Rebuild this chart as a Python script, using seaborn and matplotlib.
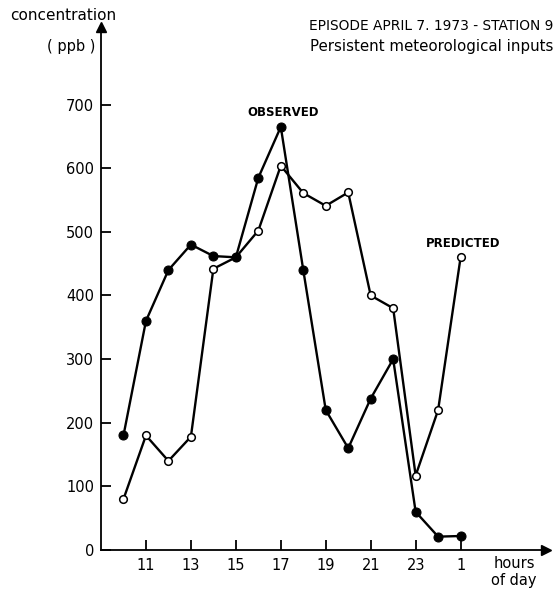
import matplotlib
matplotlib.use("Agg")
import matplotlib.pyplot as plt
import seaborn as sns
import pandas as pd

hours = [10, 11, 12, 13, 14, 15, 16, 17, 18, 19, 20, 21, 22, 23, 24, 25]
observed = [180, 360, 440, 480, 462, 460, 585, 665, 440, 220, 160, 238, 300, 60, 21, 22]
predicted = [80, 180, 140, 178, 442, 460, 502, 604, 561, 541, 562, 400, 380, 117, 220, 460]
tick_pos = [11, 13, 15, 17, 19, 21, 23, 25]
tick_labels = ["11", "13", "15", "17", "19", "21", "23", "1"]
y_ticks = [0, 100, 200, 300, 400, 500, 600, 700]

sns.set_theme(style="white")
plt.rcParams['font.family'] = ['DejaVu Sans']
plt.rcParams['text.color'] = 'black'

df = pd.DataFrame({"hour": hours, "observed": observed, "predicted": predicted})

fig = plt.figure(figsize=(5.59, 5.92), dpi=100)
ax = fig.add_axes([101/559, 1-550/592, (546-101)/559, (550-27)/592])

sns.lineplot(data=df, x="hour", y="predicted", ax=ax, color="black", lw=1.7,
             marker="o", markersize=5.5, markerfacecolor="white",
             markeredgecolor="black", markeredgewidth=1.1, zorder=3)
sns.lineplot(data=df, x="hour", y="observed", ax=ax, color="black", lw=1.7,
             marker="o", markersize=6.5, markerfacecolor="black",
             markeredgecolor="black", zorder=4)

ax.set_xlim(9, 28.8)
ax.set_ylim(0, 822)
ax.set_xticks(tick_pos)
ax.set_xticklabels(tick_labels)
ax.set_yticks(y_ticks)
ax.set_xlabel("")
ax.set_ylabel("")
for s in ["top", "right"]:
    ax.spines[s].set_visible(False)
for s in ["left", "bottom"]:
    ax.spines[s].set_color("black")
    ax.spines[s].set_linewidth(1.3)
ax.tick_params(axis="both", direction="in", length=7, width=1.3, colors="black",
               labelsize=10.5, left=True, bottom=True)
ax.tick_params(axis="x", pad=6)
ax.tick_params(axis="y", pad=5)
ax.grid(False)

# axis arrows
ax.plot(1, 0, marker=">", ms=7, color="black", transform=ax.transAxes, clip_on=False)
ax.plot(0, 1, marker="^", ms=7, color="black", transform=ax.transAxes, clip_on=False)

tc = "black"
fig.text(10/559, 1-16/592, "concentration", fontsize=11, va="center", ha="left", color=tc)
fig.text(71/559, 1-47/592, "( ppb )", fontsize=10.5, va="center", ha="center", color=tc)
fig.text(553/559, 1-26/592, "EPISODE APRIL 7. 1973 - STATION 9", fontsize=9.9,
         va="center", ha="right", color=tc)
fig.text(553/559, 1-47/592, "Persistent meteorological inputs", fontsize=10.8,
         va="center", ha="right", color=tc)
fig.text(283/559, 1-112/592, "OBSERVED", fontsize=8.5, va="center", ha="center",
         fontweight="bold", color=tc)
fig.text(463/559, 1-243/592, "PREDICTED", fontsize=8.5, va="center", ha="center",
         fontweight="bold", color=tc)
fig.text(514/559, 1-563/592, "hours", fontsize=10.5, va="center", ha="center", color=tc)
fig.text(514/559, 1-581/592, "of day", fontsize=10.5, va="center", ha="center", color=tc)

fig.savefig("out.png", dpi=100, facecolor="white")
